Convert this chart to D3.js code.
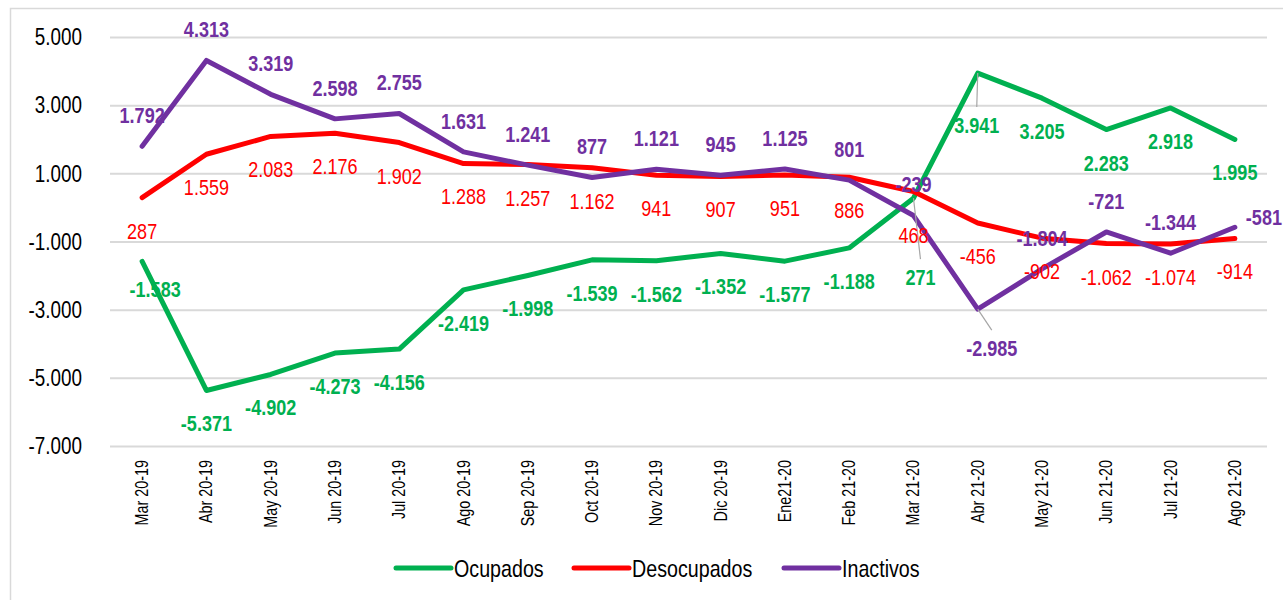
<!DOCTYPE html>
<html>
<head>
<meta charset="utf-8">
<script src="https://cdn.jsdelivr.net/npm/d3@7"></script>
<style>
  body { margin: 0; background: #fff; }
  svg { display: block; }
  text { font-family: 'Liberation Sans', Arial, sans-serif; }
</style>
</head>
<body>
<svg id="chart" width="1283" height="600"></svg>
<script>
var months = ["Mar 20-19", "Abr 20-19", "May 20-19", "Jun 20-19", "Jul 20-19", "Ago 20-19", "Sep 20-19", "Oct 20-19", "Nov 20-19", "Dic 20-19", "Ene21-20", "Feb 21-20", "Mar 21-20", "Abr 21-20", "May 21-20", "Jun 21-20", "Jul 21-20", "Ago 21-20"];
var ocupados = [-1583, -5371, -4902, -4273, -4156, -2419, -1998, -1539, -1562, -1352, -1577, -1188, 271, 3941, 3205, 2283, 2918, 1995];
var desocupados = [287, 1559, 2083, 2176, 1902, 1288, 1257, 1162, 941, 907, 951, 886, 468, -456, -902, -1062, -1074, -914];
var inactivos = [1792, 4313, 3319, 2598, 2755, 1631, 1241, 877, 1121, 945, 1125, 801, -239, -2985, -1804, -721, -1344, -581];
var series_names = ["Ocupados", "Desocupados", "Inactivos"];
var y_ticks = [-7000, -5000, -3000, -1000, 1000, 3000, 5000];

var colors = ["#00b050", "#ff0000", "#7030a0"];
var all_series = [ocupados, desocupados, inactivos];

var locale = d3.formatLocale({decimal: ",", thousands: ".", grouping: [3], currency: ["", ""], minus: "-"});
var fmt = locale.format(",d");

// the original uses Arial Narrow; squeeze Liberation Sans to get close
var narrow = 0.82;

var chart = d3.select("#chart");
var plot = {left: 110, right: 1267, top: 37, bottom: 446};

// outer frame
chart.append("rect")
    .attr("x", 10.5).attr("y", 8.5)
    .attr("width", 1300).attr("height", 700)
    .attr("fill", "none")
    .attr("stroke", "#d9d9d9")
    .attr("stroke-width", 1.5);

var xs = d3.scaleBand().domain(months).range([plot.left, plot.right]).padding(0);
var xc = d => xs(d) + xs.bandwidth() / 2;
var ys = d3.scaleLinear().domain([-7000, 5000]).range([plot.bottom, plot.top]);

// gridlines
chart.append("g")
    .attr("transform", "translate(" + plot.left + ",0)")
    .call(d3.axisLeft(ys).tickValues(y_ticks).tickSize(-(plot.right - plot.left)).tickFormat(""))
    .call(g => g.select(".domain").remove())
    .call(g => g.selectAll("line").attr("stroke", "#d9d9d9").attr("stroke-width", 2));

// y labels
chart.append("g")
    .selectAll("text")
    .data(y_ticks)
    .enter()
    .append("text")
        .attr("transform", d => "translate(82," + ys(d) + ") scale(" + narrow + ",1)")
        .attr("dy", "0.36em")
        .attr("text-anchor", "end")
        .style("font-size", "23px")
        .attr("fill", "#000")
        .text(fmt);

// x labels
chart.append("g")
    .selectAll("text")
    .data(months)
    .enter()
    .append("text")
        .attr("transform", d => "translate(" + (xc(d) + 6) + ",460) rotate(-90) scale(" + narrow + ",1)")
        .attr("text-anchor", "end")
        .style("font-size", "17.5px")
        .attr("fill", "#000")
        .text(d => d);

// lines
var line = d3.line()
    .x((d, i) => xc(months[i]))
    .y(d => ys(d));

for (var s = 0; s < all_series.length; s++) {
    chart.append("path")
        .datum(all_series[s])
        .attr("fill", "none")
        .attr("stroke", colors[s])
        .attr("stroke-width", 5)
        .attr("stroke-linejoin", "round")
        .attr("stroke-linecap", "round")
        .attr("d", line);
}

// data labels: default offsets per series, plus a few moved ones
var default_dy = [33, 33, -31];
var moved = {
    "0:0": {dx: 13, dy: 28},
    "0:12": {dx: 7, dy: 79, leader: true},
    "0:13": {dx: -1, dy: 52, leader: true},
    "1:12": {dx: 0, dy: 44},
    "2:13": {dx: 14, dy: 39, leader: true},
    "2:17": {dx: 11, dy: -10, anchor: "start"}
};

var labels = chart.append("g");
for (var s = 0; s < all_series.length; s++) {
    all_series[s].forEach(function(v, i) {
        var m = moved[s + ":" + i] || {dx: 0, dy: default_dy[s]};
        var px = xc(months[i]), py = ys(v);
        var lx = px + m.dx, ly = py + m.dy;
        if (m.leader) {
            var ey = m.dy > 0 ? ly - 18 : ly + 18;
            labels.append("line")
                .attr("x1", px).attr("y1", py)
                .attr("x2", lx).attr("y2", ey)
                .attr("stroke", "#a6a6a6")
                .attr("stroke-width", 1.2);
        }
        labels.append("text")
            .attr("transform", "translate(" + lx + "," + ly + ") scale(" + narrow + ",1)")
            .attr("dy", "0.36em")
            .attr("text-anchor", m.anchor || "middle")
            .attr("fill", colors[s])
            .style("font-size", "22px")
            .style("font-weight", s == 1 ? "normal" : "bold")
            .text(fmt(v));
    });
}

// legend
var legend_x = [396, 574, 784];
var legend = chart.append("g").selectAll("g")
    .data(series_names)
    .enter()
    .append("g")
        .attr("transform", (d, i) => "translate(" + legend_x[i] + ",568)");
legend.append("line")
    .attr("x1", 0).attr("x2", 55)
    .attr("stroke", (d, i) => colors[i])
    .attr("stroke-width", 5)
    .attr("stroke-linecap", "round");
legend.append("text")
    .attr("transform", "translate(58,0) scale(" + narrow + ",1)")
    .attr("dy", "0.36em")
    .style("font-size", "24px")
    .attr("fill", "#000")
    .text(d => d);
</script>
</body>
</html>
